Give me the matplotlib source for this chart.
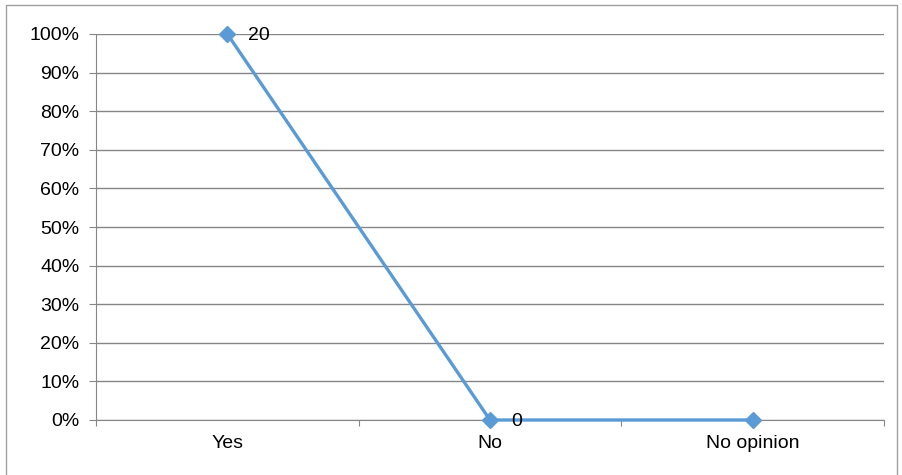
import matplotlib
matplotlib.use('Agg')
import matplotlib.pyplot as plt
from matplotlib.ticker import PercentFormatter
from matplotlib.patches import Rectangle

# survey answers
categories = ["Yes", "No", "No opinion"]
counts = [20, 0, 0]
labels = ["20", "0", ""]
total = 20
shares = [c / total for c in counts]

plt.rcParams['font.family'] = ['Liberation Sans', 'DejaVu Sans']
fs = 14

fig = plt.figure(figsize=(9.03, 4.75), dpi=100)
ax = fig.add_axes([96 / 903, 1 - 420 / 475, (884 - 96) / 903, (420 - 34) / 475])

x = [i + 0.5 for i in range(len(categories))]
ax.plot(x, shares, color="#5B9BD5", lw=2.4, marker="D", ms=8.5, zorder=3, clip_on=False)
for xi, yi, lab in zip(x, shares, labels):
    if lab:
        ax.annotate(lab, (xi, yi), xytext=(15, -1), textcoords="offset points",
                    va="center", ha="left", fontsize=fs, color="black", zorder=4)

ax.set_xlim(0, len(categories))
ax.set_ylim(0, 1)
ax.set_yticks([i / 10 for i in range(11)])
ax.yaxis.set_major_formatter(PercentFormatter(1.0, decimals=0))
ax.set_xticks(range(len(categories) + 1))
ax.set_xticklabels([])
ax.set_xticks(x, minor=True)
ax.set_xticklabels(categories, minor=True)
ax.tick_params(axis="x", which="minor", length=0, pad=11, labelsize=fs)
ax.tick_params(axis="x", which="major", length=4, color="#868686", direction="out")
ax.tick_params(axis="y", length=5, color="#868686", labelsize=fs, pad=7)

ax.grid(axis="y", color="#868686", lw=1)
ax.set_axisbelow(True)
for side in ["top", "right"]:
    ax.spines[side].set_visible(False)
ax.spines["left"].set_color("#868686")
ax.spines["bottom"].set_color("#868686")

# outer frame of the chart area
fig.patches.append(Rectangle((6 / 903, -0.01), (897 - 6) / 903, 1 - 5 / 475 + 0.01,
                             transform=fig.transFigure, fill=False,
                             edgecolor="#A0A0A0", lw=1))

fig.savefig("out.png", dpi=100)
